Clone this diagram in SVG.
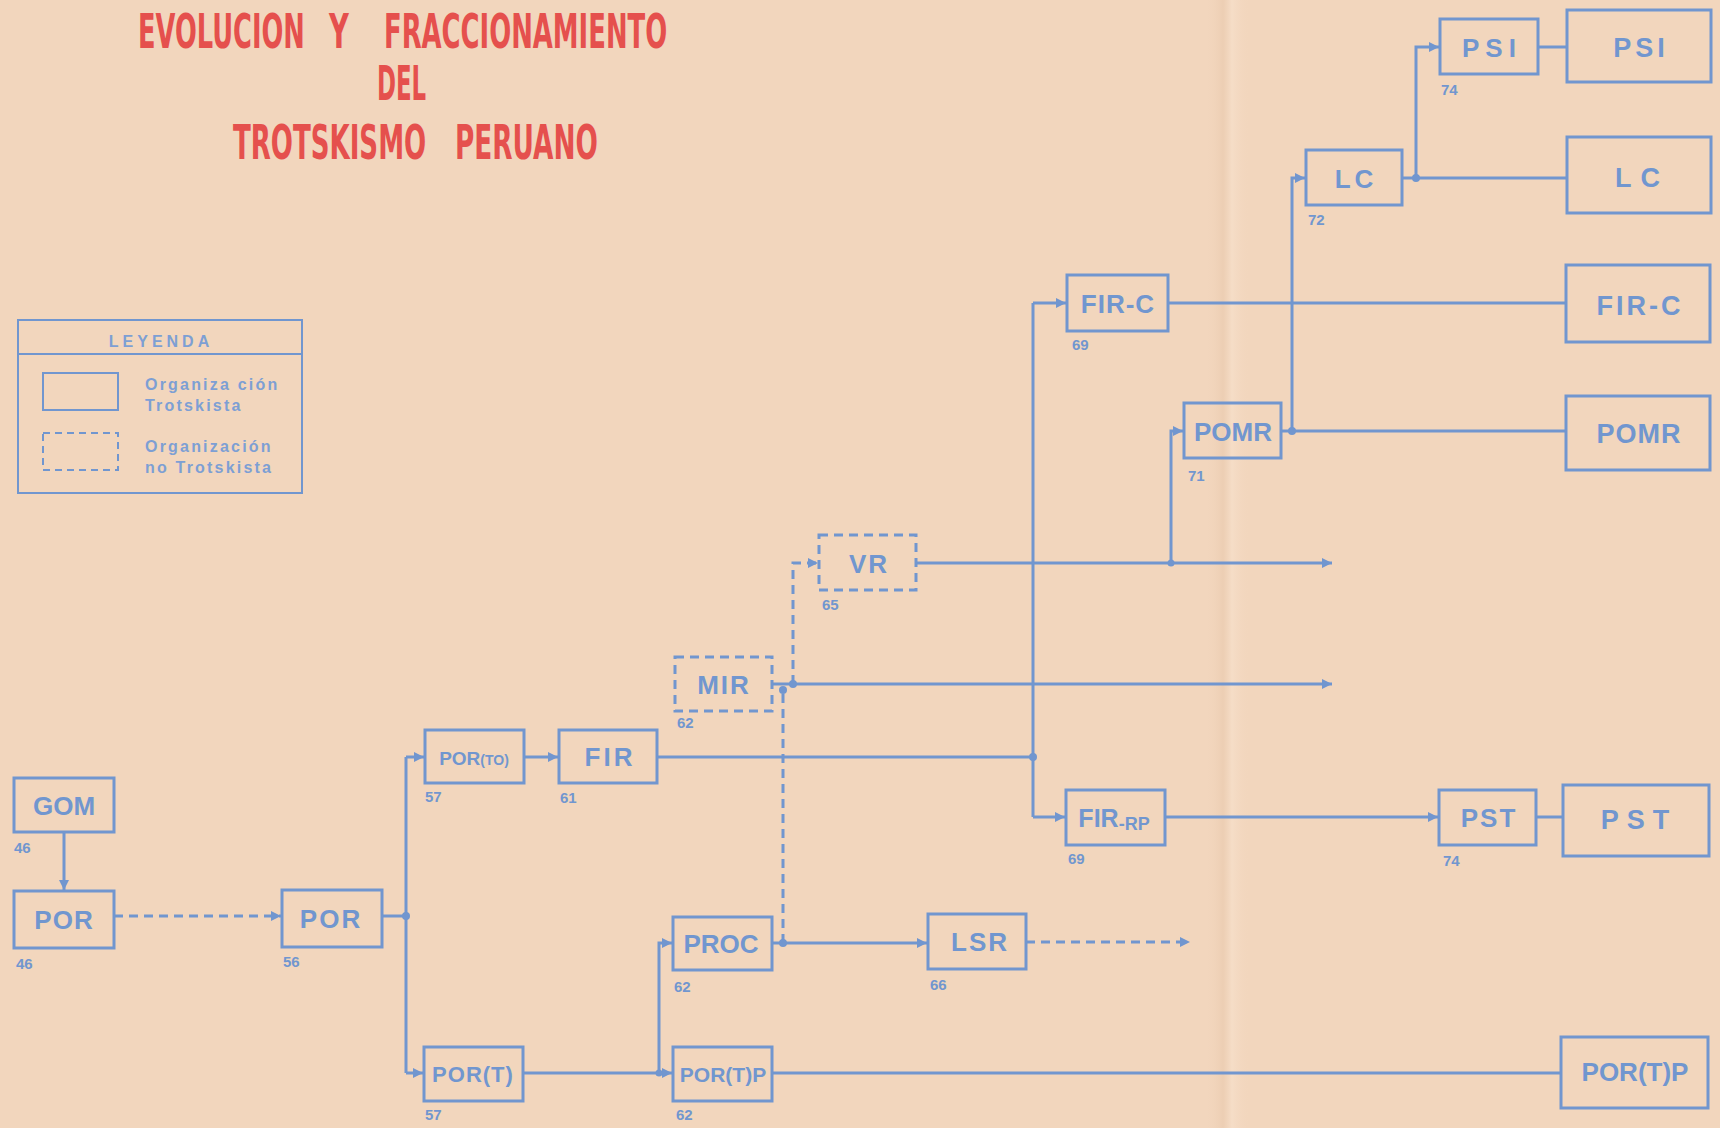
<svg xmlns="http://www.w3.org/2000/svg" width="1720" height="1128" viewBox="0 0 1720 1128">
<defs>
<style>
.bx{fill:none;stroke:#7196cf;stroke-width:3}
.ds{stroke-dasharray:9 6}
.cn{fill:none;stroke:#7196cf;stroke-width:3}
.t{font-family:"Liberation Sans",Arial,sans-serif;font-weight:bold;fill:#7196cf;text-anchor:middle}
.lb{font-size:26px}
.fl{font-size:27px;letter-spacing:4px}
.yr{font-family:"Liberation Sans",Arial,sans-serif;font-weight:bold;fill:#7196cf;font-size:15px}
.lg{font-family:"Liberation Sans",Arial,sans-serif;font-weight:bold;fill:#7d9fd4;font-size:16px;letter-spacing:2.2px}
.ti{font-family:"DejaVu Sans Condensed","Liberation Sans Narrow","Liberation Sans",sans-serif;font-weight:bold;fill:#e5504d;font-size:48px}
.dot{fill:#7196cf}
</style>
<marker id="ar" viewBox="0 0 10 10" refX="10" refY="5" markerWidth="10" markerHeight="10" markerUnits="userSpaceOnUse" orient="auto">
<path d="M0,0 L10,5 L0,10 z" fill="#7196cf"/>
</marker>
<linearGradient id="fold" x1="0" y1="0" x2="1" y2="0">
<stop offset="0" stop-color="#f2d6bd" stop-opacity="0"/>
<stop offset="0.4" stop-color="#e9c9ad" stop-opacity="0.6"/>
<stop offset="0.6" stop-color="#f7e0cb" stop-opacity="0.7"/>
<stop offset="1" stop-color="#f2d6bd" stop-opacity="0"/>
</linearGradient>
</defs>
<rect x="0" y="0" width="1720" height="1128" fill="#f2d6bd"/>
<rect x="1205" y="0" width="45" height="1128" fill="url(#fold)"/>

<g id="title">
<text class="ti" transform="translate(138,48) scale(0.6,1)" textLength="278" lengthAdjust="spacingAndGlyphs">EVOLUCION</text>
<text class="ti" transform="translate(329,48) scale(0.6,1)" textLength="33" lengthAdjust="spacingAndGlyphs">Y</text>
<text class="ti" transform="translate(384,48) scale(0.6,1)" textLength="472" lengthAdjust="spacingAndGlyphs">FRACCIONAMIENTO</text>
<text class="ti" transform="translate(377,100) scale(0.6,1)" textLength="82" lengthAdjust="spacingAndGlyphs">DEL</text>
<text class="ti" transform="translate(233,159) scale(0.6,1)" textLength="322" lengthAdjust="spacingAndGlyphs">TROTSKISMO</text>
<text class="ti" transform="translate(455,159) scale(0.6,1)" textLength="238" lengthAdjust="spacingAndGlyphs">PERUANO</text>
</g>

<g id="legend">
<rect class="bx" x="18" y="320" width="284" height="173" style="stroke-width:2"/>
<line class="cn" x1="18" y1="354" x2="302" y2="354" style="stroke-width:2"/>
<text class="lg" x="161" y="347" text-anchor="middle" style="letter-spacing:4px;font-size:16px">LEYENDA</text>
<rect class="bx" x="43" y="373" width="75" height="37" style="stroke-width:2"/>
<rect class="bx" x="43" y="433" width="75" height="37" style="stroke-width:2;stroke-dasharray:7 5"/>
<text class="lg" x="145" y="390">Organiza ción</text>
<text class="lg" x="145" y="411">Trotskista</text>
<text class="lg" x="145" y="452">Organización</text>
<text class="lg" x="145" y="473">no  Trotskista</text>
</g>

<g id="connectors">
<path class="cn" d="M64,832 V890" marker-end="url(#ar)"/>
<path class="cn ds" d="M114,916 H281" marker-end="url(#ar)"/>
<path class="cn" d="M382,916 H406"/>
<path class="cn" d="M406,757 V1073"/>
<path class="cn" d="M406,757 H424" marker-end="url(#ar)"/>
<path class="cn" d="M406,1073 H423" marker-end="url(#ar)"/>
<path class="cn" d="M524,757 H558" marker-end="url(#ar)"/>
<path class="cn" d="M657,757 H1033"/>
<path class="cn" d="M1033,303 V817"/>
<path class="cn" d="M1033,303 H1066" marker-end="url(#ar)"/>
<path class="cn" d="M1033,817 H1065" marker-end="url(#ar)"/>
<path class="cn" d="M1168,303 H1566"/>
<path class="cn" d="M772,684 H1332" marker-end="url(#ar)"/>
<path class="cn ds" d="M793,684 V563 H818" marker-end="url(#ar)"/>
<path class="cn" d="M916,563 H1332" marker-end="url(#ar)"/>
<path class="cn" d="M1171,563 V431 H1183" marker-end="url(#ar)"/>
<path class="cn" d="M1281,431 H1566"/>
<path class="cn" d="M1292,431 V178 H1305" marker-end="url(#ar)"/>
<path class="cn" d="M1402,178 H1567"/>
<path class="cn" d="M1416,178 V47 H1439" marker-end="url(#ar)"/>
<path class="cn" d="M1538,47 H1567"/>
<path class="cn" d="M1165,817 H1438" marker-end="url(#ar)"/>
<path class="cn" d="M1536,817 H1563"/>
<path class="cn" d="M523,1073 H672" marker-end="url(#ar)"/>
<path class="cn" d="M659,1073 V943 H672" marker-end="url(#ar)"/>
<path class="cn" d="M772,943 H927" marker-end="url(#ar)"/>
<path class="cn ds" d="M783,943 V689"/>
<path class="cn ds" d="M1026,942 H1190" marker-end="url(#ar)"/>
<path class="cn" d="M772,1073 H1561"/>
<circle class="dot" cx="406" cy="916" r="4"/>
<circle class="dot" cx="1033" cy="757" r="4"/>
<circle class="dot" cx="793" cy="684" r="4"/>
<circle class="dot" cx="783" cy="690" r="4"/>
<circle class="dot" cx="1171" cy="563" r="3.5"/>
<circle class="dot" cx="1292" cy="431" r="4"/>
<circle class="dot" cx="1416" cy="178" r="4"/>
<circle class="dot" cx="783" cy="943" r="4"/>
<circle class="dot" cx="659" cy="1073" r="3.5"/>
</g>

<g id="n-gom"><rect class="bx" x="14" y="778" width="100" height="54"/><text class="t lb" x="64" y="815">GOM</text><text class="yr" x="14" y="853">46</text></g>
<g id="n-por46"><rect class="bx" x="14" y="891" width="100" height="57"/><text class="t lb" x="64" y="929" style="letter-spacing:1px">POR</text><text class="yr" x="16" y="969">46</text></g>
<g id="n-por56"><rect class="bx" x="282" y="890" width="100" height="57"/><text class="t lb" x="331" y="928" style="letter-spacing:2px">POR</text><text class="yr" x="283" y="967">56</text></g>
<g id="n-porto"><rect class="bx" x="425" y="730" width="99" height="53"/><text class="t" x="474" y="765" style="font-size:19px"><tspan>POR</tspan><tspan style="font-size:14px">(TO)</tspan></text><text class="yr" x="425" y="802">57</text></g>
<g id="n-fir"><rect class="bx" x="559" y="730" width="98" height="53"/><text class="t lb" x="610" y="766" style="letter-spacing:3px">FIR</text><text class="yr" x="560" y="803">61</text></g>
<g id="n-mir"><rect class="bx ds" x="675" y="657" width="97" height="54"/><text class="t lb" x="724" y="694" style="letter-spacing:2px">MIR</text><text class="yr" x="677" y="728">62</text></g>
<g id="n-vr"><rect class="bx ds" x="819" y="535" width="97" height="55"/><text class="t lb" x="869" y="573" style="letter-spacing:2px">VR</text><text class="yr" x="822" y="610">65</text></g>
<g id="n-firc"><rect class="bx" x="1067" y="275" width="101" height="56"/><text class="t lb" x="1118" y="313" style="letter-spacing:1px">FIR-C</text><text class="yr" x="1072" y="350">69</text></g>
<g id="n-pomr"><rect class="bx" x="1184" y="403" width="97" height="55"/><text class="t lb" x="1233" y="441">POMR</text><text class="yr" x="1188" y="481">71</text></g>
<g id="n-lc"><rect class="bx" x="1306" y="150" width="96" height="55"/><text class="t lb" x="1356" y="188" style="letter-spacing:4px">LC</text><text class="yr" x="1308" y="225">72</text></g>
<g id="n-psi"><rect class="bx" x="1440" y="19" width="98" height="55"/><text class="t lb" x="1492" y="57" style="letter-spacing:6px">PSI</text><text class="yr" x="1441" y="95">74</text></g>
<g id="n-firrp"><rect class="bx" x="1066" y="790" width="99" height="55"/><text class="t" x="1114" y="827" style="font-size:25px"><tspan>FIR</tspan><tspan style="font-size:18px" dy="3">-RP</tspan></text><text class="yr" x="1068" y="864">69</text></g>
<g id="n-pst"><rect class="bx" x="1439" y="790" width="97" height="55"/><text class="t lb" x="1489" y="827" style="letter-spacing:2px">PST</text><text class="yr" x="1443" y="866">74</text></g>
<g id="n-proc"><rect class="bx" x="673" y="917" width="99" height="53"/><text class="t lb" x="721" y="953">PROC</text><text class="yr" x="674" y="992">62</text></g>
<g id="n-lsr"><rect class="bx" x="928" y="914" width="98" height="55"/><text class="t lb" x="980" y="951" style="letter-spacing:2px">LSR</text><text class="yr" x="930" y="990">66</text></g>
<g id="n-port"><rect class="bx" x="424" y="1047" width="99" height="54"/><text class="t" x="473" y="1082" style="font-size:22px;letter-spacing:1px">POR(T)</text><text class="yr" x="425" y="1120">57</text></g>
<g id="n-portp"><rect class="bx" x="673" y="1047" width="99" height="54"/><text class="t" x="723" y="1082" style="font-size:21px">POR(T)P</text><text class="yr" x="676" y="1120">62</text></g>

<g id="f-psi"><rect class="bx" x="1567" y="10" width="144" height="72"/><text class="t fl" x="1641" y="57">PSI</text></g>
<g id="f-lc"><rect class="bx" x="1567" y="137" width="144" height="76"/><text class="t fl" x="1642" y="187" style="letter-spacing:9px">LC</text></g>
<g id="f-firc"><rect class="bx" x="1566" y="265" width="144" height="77"/><text class="t fl" x="1640" y="315" style="letter-spacing:3px">FIR-C</text></g>
<g id="f-pomr"><rect class="bx" x="1566" y="396" width="144" height="74"/><text class="t fl" x="1639" y="443" style="letter-spacing:1px">POMR</text></g>
<g id="f-pst"><rect class="bx" x="1563" y="785" width="146" height="71"/><text class="t fl" x="1639" y="829" style="letter-spacing:8px">PST</text></g>
<g id="f-portp"><rect class="bx" x="1561" y="1037" width="147" height="71"/><text class="t" x="1635" y="1081" style="font-size:26px">POR(T)P</text></g>
</svg>
